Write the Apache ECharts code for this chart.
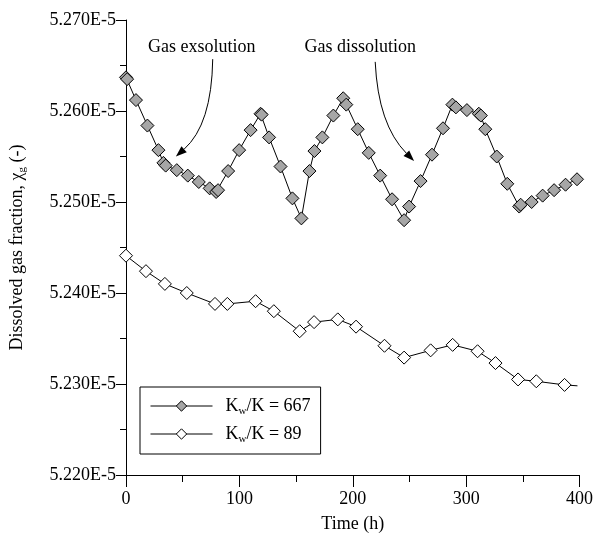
<!DOCTYPE html>
<html>
<head>
<meta charset="utf-8">
<script src="https://cdn.jsdelivr.net/npm/echarts@6/dist/echarts.min.js"></script>
<style>
html,body{margin:0;padding:0;background:#fff;}
#c{width:596px;height:543px;}
</style>
</head>
<body>
<div id="c"></div>
<script>
// ---- Data (values in units of 1E-5) ----
const timeHigh = [0, 1, 8.8, 18.9, 28.6, 33, 35, 44.8, 54.5, 64.2,
  73.8, 79.5, 81.2, 90.1, 99.8, 109.9, 118.7, 119.6, 126.2, 136.3,
  146.8, 154.7, 161.8, 166.2, 173.2, 182.9, 191.6, 194.3, 204.4, 214.1,
  224.2, 234.7, 245.3, 249.7, 259.8, 269.9, 279.6, 287.9, 291.0, 300.7,
  311.2, 313.0, 316.9, 327.0, 336.3, 346.8, 348.1, 357.8, 367.5, 377.6,
  387.7, 397.8];
const valueHigh = [5.2637, 5.2635, 5.2612, 5.2584, 5.2557, 5.2543, 5.2540, 5.2535, 5.2529, 5.2522,
  5.2515, 5.2511, 5.2513, 5.2534, 5.2557, 5.2579, 5.2597, 5.2596, 5.2571, 5.2539,
  5.2504, 5.2482, 5.2534, 5.2556, 5.2571, 5.2595, 5.2614, 5.2607, 5.2580, 5.2554,
  5.2529, 5.2503, 5.2480, 5.2495, 5.2523, 5.2552, 5.2581, 5.2607, 5.2604, 5.2601,
  5.2597, 5.2595, 5.2580, 5.2550, 5.2520, 5.2495, 5.2497, 5.2500, 5.2507, 5.2513,
  5.2519, 5.2525];

const timeLow = [0, 17.6, 34.3, 53.6, 78.5, 89.4, 114.3, 130.4, 153.2, 165.9,
  186.8, 202.9, 228.0, 245.3, 268.7, 288.1, 310.1, 325.9, 345.8, 361.9,
  386.8, 398.2];
const valueLow = [5.2441, 5.2424, 5.2410, 5.2400, 5.2388, 5.2388, 5.2391, 5.2380, 5.2358, 5.2368,
  5.2371, 5.2363, 5.2342, 5.2329, 5.2337, 5.2343, 5.2336, 5.2323, 5.2305, 5.2303,
  5.2299, 5.2298];

const ratioLabels = ['667', '89'];
const seriesNames = ['Kw/K = 667', 'Kw/K = 89'];
const annotationTexts = ['Gas exsolution', 'Gas dissolution'];
// annotation anchors in data coordinates: [time, value]
const annotationTextPos = [[66.8, 5.2670], [206.6, 5.2670]];
const arrowStart = [[76.5, 5.2657], [219.8, 5.2654]];
const arrowCtrl  = [[75.6, 5.2585], [222.4, 5.2585]];
const arrowTip   = [[44.0, 5.2550], [254.1, 5.2545]];

// ---- Chart ----
const FONT = 'Liberation Serif';
const chart = echarts.init(document.getElementById('c'));
const pairs = (xs, ys) => xs.map((x, i) => [x, ys[i]]);
const lowData = pairs(timeLow, valueLow).map((p, i, a) =>
  i === a.length - 1 ? { value: p, symbol: 'none' } : p);

const richLegend = {
  n: { fontFamily: FONT, fontSize: 18, color: '#000', lineHeight: 22 },
  s: { fontFamily: FONT, fontSize: 11, color: '#000', lineHeight: 12, verticalAlign: 'bottom' },
  f: { fontFamily: FONT, fontSize: 18, color: '#000', lineHeight: 22, padding: [0, 0, 0, 8] }
};

chart.setOption({
  animation: false,
  backgroundColor: '#fff',
  grid: { left: 125, right: 16, top: 20, bottom: 68, containLabel: false },
  legend: {
    orient: 'vertical',
    left: 140, top: 387,
    padding: [10, 10, 9, 10],
    itemGap: 8,
    itemWidth: 62,
    itemHeight: 13,
    borderColor: '#000',
    borderWidth: 1,
    backgroundColor: '#fff',
    data: seriesNames,
    lineStyle: { width: 1, color: '#000' },
    itemStyle: { borderWidth: 1, borderColor: '#000' },
    formatter: name => {
      const i = seriesNames.indexOf(name);
      return '{f|K}{s|w}{n|/K = ' + ratioLabels[i] + '}';
    },
    textStyle: { rich: richLegend }
  },
  xAxis: {
    type: 'value', min: 0, max: 400, interval: 100,
    name: 'Time (h)', nameLocation: 'middle', nameGap: 40,
    nameTextStyle: { fontFamily: FONT, fontSize: 18, color: '#000' },
    axisLine: { onZero: false, lineStyle: { color: '#000', width: 1 } },
    axisTick: { show: true, inside: false, length: 12, lineStyle: { color: '#000' } },
    minorTick: { show: true, splitNumber: 2, length: 7, lineStyle: { color: '#000' } },
    splitLine: { show: false },
    axisLabel: { fontFamily: FONT, fontSize: 18, color: '#000', margin: 15 }
  },
  yAxis: {
    type: 'value', min: 5.22, max: 5.27, interval: 0.01,
    name: '{n|Dissolved gas fraction, χ}{s|g}{n| (-)}',
    nameLocation: 'middle', nameGap: 98, nameRotate: 90,
    nameTextStyle: {
      rich: {
        n: { fontFamily: FONT, fontSize: 18, color: '#000', lineHeight: 22 },
        s: { fontFamily: FONT, fontSize: 11, color: '#000', lineHeight: 12, verticalAlign: 'bottom' }
      }
    },
    axisLine: { show: true, onZero: false, lineStyle: { color: '#000', width: 1 } },
    axisTick: { show: true, inside: false, length: 10, lineStyle: { color: '#000' } },
    minorTick: { show: true, splitNumber: 2, length: 6, lineStyle: { color: '#000' } },
    splitLine: { show: false },
    axisLabel: {
      fontFamily: FONT, fontSize: 18, color: '#000', margin: 10,
      formatter: v => v.toFixed(3) + 'E-5'
    }
  },
  series: [
    {
      name: seriesNames[0], type: 'line',
      data: pairs(timeHigh, valueHigh),
      symbol: 'diamond', symbolSize: 13,
      lineStyle: { color: '#000', width: 1 },
      itemStyle: { color: '#a6a6a6', borderColor: '#000', borderWidth: 1 },
      z: 3
    },
    {
      name: seriesNames[1], type: 'line',
      data: lowData,
      symbol: 'diamond', symbolSize: 13,
      lineStyle: { color: '#000', width: 1 },
      itemStyle: { color: '#fff', borderColor: '#000', borderWidth: 1 },
      z: 3
    }
  ]
});

// ---- Annotations (positioned from data coordinates) ----
const toPx = p => chart.convertToPixel({ gridIndex: 0 }, p);
const graphics = [];
annotationTexts.forEach((t, i) => {
  const tp = toPx(annotationTextPos[i]);
  graphics.push({
    type: 'text', x: tp[0], y: tp[1], silent: true,
    style: { text: t, font: '18px "' + FONT + '"', fill: '#000', textAlign: 'center', textVerticalAlign: 'middle' }
  });
  const s = toPx(arrowStart[i]), c = toPx(arrowCtrl[i]), e = toPx(arrowTip[i]);
  const dx = e[0] - c[0], dy = e[1] - c[1];
  const len = Math.hypot(dx, dy);
  const ux = dx / len, uy = dy / len;
  const headLen = 11, headW = 4;
  const bx = e[0] - ux * headLen, by = e[1] - uy * headLen;
  graphics.push({
    type: 'bezierCurve', silent: true,
    shape: { x1: s[0], y1: s[1], cpx1: c[0], cpy1: c[1], x2: bx, y2: by },
    style: { stroke: '#000', lineWidth: 1, fill: null }
  });
  graphics.push({
    type: 'polygon', silent: true,
    shape: { points: [[e[0], e[1]], [bx - uy * headW, by + ux * headW], [bx + uy * headW, by - ux * headW]] },
    style: { fill: '#000' }
  });
});
chart.setOption({ graphic: graphics });
</script>
</body>
</html>
